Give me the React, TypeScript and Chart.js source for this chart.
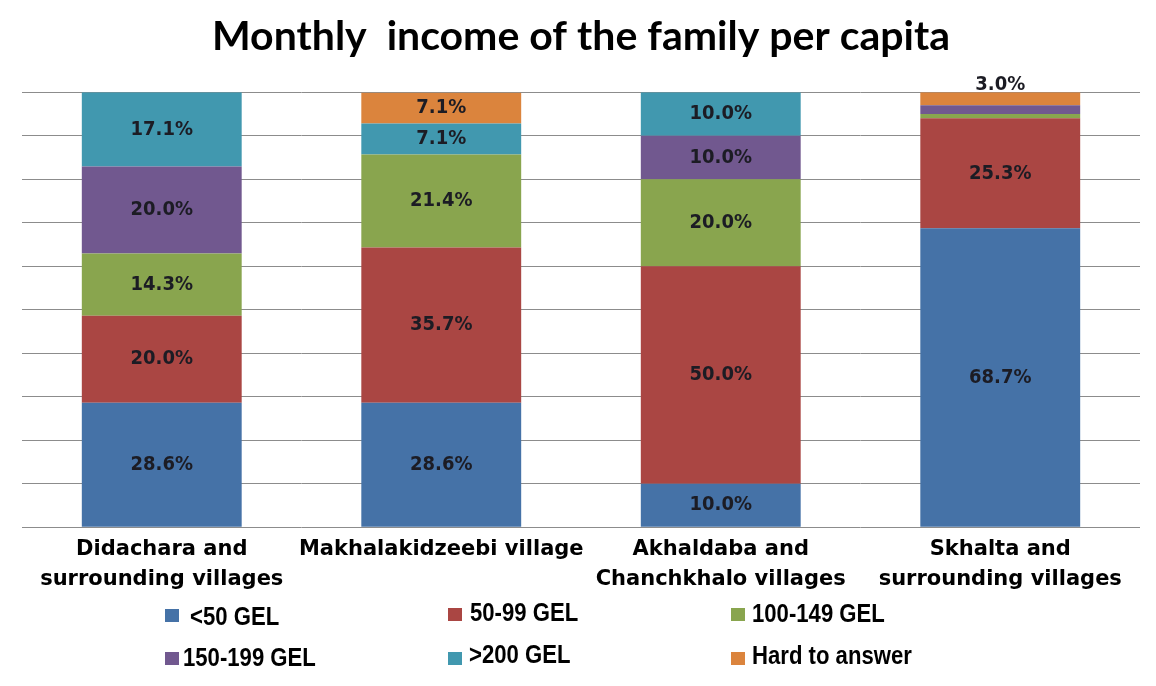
import React, { useEffect, useRef } from "react";
import { Chart, registerables } from "chart.js";

Chart.register(...registerables);

const categories: string[][] = [
  ["Didachara and", "surrounding villages"],
  ["Makhalakidzeebi village"],
  ["Akhaldaba and", "Chanchkhalo villages"],
  ["Skhalta and", "surrounding villages"],
];

const seriesNames = ["<50 GEL", "50-99 GEL", "100-149 GEL", "150-199 GEL", ">200 GEL", "Hard to answer"];
const seriesColors = ["#4572A7", "#AA4643", "#89A54E", "#71588F", "#4198AF", "#DB843D"];

const lt50 = [28.6, 28.6, 10.0, 68.7];
const gel50_99 = [20.0, 35.7, 50.0, 25.3];
const gel100_149 = [14.3, 21.4, 20.0, 1.0];
const gel150_199 = [20.0, 0, 10.0, 2.0];
const gt200 = [17.1, 7.1, 10.0, 0];
const hardToAnswer = [0, 7.1, 0, 3.0];

const seriesValues = [lt50, gel50_99, gel100_149, gel150_199, gt200, hardToAnswer];

// legend layout: [markerX, markerY, textX, textBaseline]
const legendSpots: number[][] = [
  [165, 609, 190, 625],
  [448, 608, 470, 621],
  [731, 608, 752, 622],
  [165, 652, 183, 666],
  [448, 652, 469, 663],
  [731, 652, 752, 664],
];

const labelPlugin = {
  id: "valueLabels",
  afterDatasetsDraw(chart: any) {
    const ctx = chart.ctx;
    const n = chart.data.datasets.length;
    chart.data.datasets.forEach((ds: any, di: number) => {
      const meta = chart.getDatasetMeta(di);
      meta.data.forEach((el: any, i: number) => {
        const v = ds.data[i];
        if (!v) return;
        let y: number | null = null;
        if (v >= 5) y = (el.y + el.base) / 2;
        else if (di === n - 1) y = el.y - 7;
        if (y === null) return;
        ctx.save();
        ctx.translate(el.x, y);
        ctx.scale(0.9, 1);
        ctx.font = "bold 20px 'DejaVu Sans'";
        ctx.fillStyle = "#1c1c24";
        ctx.textAlign = "center";
        ctx.textBaseline = "middle";
        ctx.fillText(v.toFixed(1) + "%", 0, 0);
        ctx.restore();
      });
    });
  },
};

const legendPlugin = {
  id: "customLegend",
  afterDraw(chart: any) {
    const ctx = chart.ctx;
    seriesNames.forEach((name, i) => {
      const [mx, my, tx, ty] = legendSpots[i];
      ctx.save();
      ctx.fillStyle = seriesColors[i];
      ctx.fillRect(mx, my, 14, 13);
      ctx.translate(tx, ty);
      ctx.scale(0.885, 1);
      ctx.font = "bold 25px 'Liberation Sans'";
      ctx.textBaseline = "alphabetic";
      ctx.textAlign = "left";
      ctx.fillStyle = "#000";
      ctx.fillText(name, 0, 0);
      ctx.restore();
    });
  },
};

export default function App() {
  const ref = useRef<HTMLCanvasElement | null>(null);
  useEffect(() => {
    if (!ref.current) return;
    const chart = new Chart(ref.current, {
      type: "bar",
      data: {
        labels: categories as any,
        datasets: seriesNames.map((name, i) => ({
          label: name,
          data: seriesValues[i],
          backgroundColor: seriesColors[i],
          borderWidth: 0,
          barPercentage: 0.572,
          categoryPercentage: 1,
        })),
      },
      options: {
        animation: false,
        responsive: false,
        maintainAspectRatio: false,
        layout: { padding: { left: 22, right: 16, top: 0, bottom: 84 } },
        plugins: {
          legend: { display: false },
          tooltip: { enabled: false },
          title: {
            display: true,
            text: "Monthly  income of the family per capita",
            color: "#000",
            font: { family: "Lato", size: 41, weight: "bold", lineHeight: 1.2 },
            padding: { top: 12, bottom: 31 },
          },
        },
        scales: {
          x: {
            stacked: true,
            grid: { display: false, drawTicks: false },
            border: { display: false },
            ticks: {
              color: "#000",
              padding: 8,
              maxRotation: 0,
              autoSkip: false,
              font: { family: "DejaVu Sans", size: 21, weight: "bold", lineHeight: 1.4 },
            },
          },
          y: {
            stacked: true,
            min: 0,
            max: 100,
            ticks: { display: false, stepSize: 10 },
            grid: { color: "#8c8c8c", lineWidth: 1, drawTicks: false },
            border: { display: false },
          },
        },
      },
      plugins: [labelPlugin, legendPlugin],
    });
    return () => chart.destroy();
  }, []);
  return (
    <div style={{ position: "fixed", left: 0, top: 0, width: 1156, height: 686, background: "#fff" }}>
      <canvas ref={ref} width={1156} height={686} style={{ width: 1156, height: 686 }} />
    </div>
  );
}
